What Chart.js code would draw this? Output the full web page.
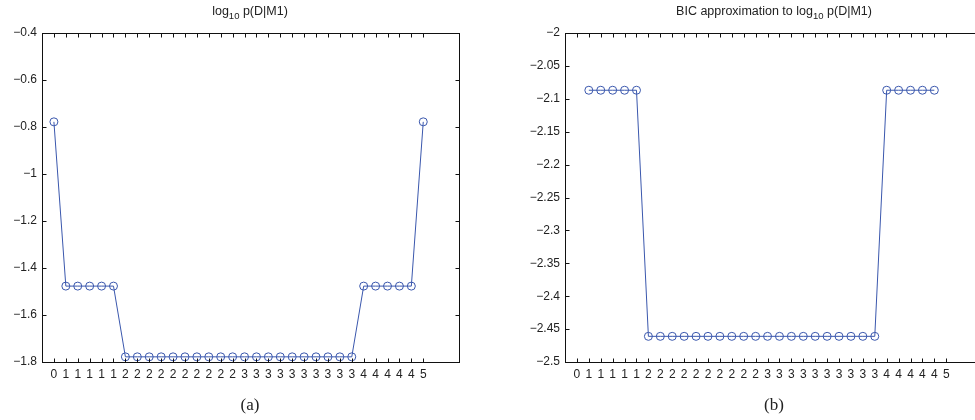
<!DOCTYPE html>
<html>
<head>
<meta charset="utf-8">
<script src="https://cdn.jsdelivr.net/npm/chart.js@4/dist/chart.umd.min.js"></script>
<style>
  html, body { margin: 0; padding: 0; background: #fff; overflow: hidden; }
  body { width: 975px; height: 420px; position: relative; font-family: "Liberation Sans", Arial, sans-serif; color: #222; }
  .panel { position: absolute; top: 0; height: 420px; }
  .title { position: absolute; top: 4px; font-size: 12.5px; white-space: nowrap; transform: translateX(-50%); }
  .title sub { font-size: 9.5px; vertical-align: -4px; line-height: 0; }
  .caption { position: absolute; top: 395px; font-family: "Liberation Serif", "Times New Roman", serif; font-size: 17px; transform: translateX(-50%); }
</style>
</head>
<body>
<div class="panel" style="left:0;width:487px"><canvas id="chartA"></canvas></div>
<div class="panel" style="left:487px;width:500px"><canvas id="chartB"></canvas></div>
<div class="title" style="left:250px">log<sub>10</sub> p(D|M1)</div>
<div class="title" style="left:774px">BIC approximation to log<sub>10</sub> p(D|M1)</div>
<div class="caption" style="left:250px">(a)</div>
<div class="caption" style="left:774px">(b)</div>
<script>
// number of heads N1 in each of the 32 data sets
var xLabels = ['0', '1', '1', '1', '1', '1',
  '2', '2', '2', '2', '2', '2', '2', '2', '2', '2',
  '3', '3', '3', '3', '3', '3', '3', '3', '3', '3',
  '4', '4', '4', '4', '4', '5'];

// log10 p(D|M1)
var logMarginal = [-0.778, -1.477, -1.477, -1.477, -1.477, -1.477,
  -1.778, -1.778, -1.778, -1.778, -1.778, -1.778, -1.778, -1.778, -1.778, -1.778,
  -1.778, -1.778, -1.778, -1.778, -1.778, -1.778, -1.778, -1.778, -1.778, -1.778,
  -1.477, -1.477, -1.477, -1.477, -1.477, -0.778];

// BIC approximation (undefined at N1 = 0 and N1 = 5)
var bicApprox = [null, -2.087, -2.087, -2.087, -2.087, -2.087,
  -2.461, -2.461, -2.461, -2.461, -2.461, -2.461, -2.461, -2.461, -2.461, -2.461,
  -2.461, -2.461, -2.461, -2.461, -2.461, -2.461, -2.461, -2.461, -2.461, -2.461,
  -2.087, -2.087, -2.087, -2.087, -2.087, null];

var yTicksA = [-1.8, -1.6, -1.4, -1.2, -1, -0.8, -0.6, -0.4];
var yTicksB = [-2.5, -2.45, -2.4, -2.35, -2.3, -2.25, -2.2, -2.15, -2.1, -2.05, -2];

var lineColor = '#3a57ad';
var textColor = '#222';

// matlab style box with inward ticks
var framePlugin = {
  id: 'frame',
  afterDraw(chart) {
    var ctx = chart.ctx, a = chart.chartArea;
    var xs = chart.scales.x, ys = chart.scales.y;
    var L = Math.round(a.left) + 0.5, R = Math.round(a.right) + 0.5;
    var T = Math.round(a.top) + 0.5, B = Math.round(a.bottom) + 0.5;
    var len = 4;
    ctx.save();
    ctx.strokeStyle = '#111';
    ctx.lineWidth = 1;
    ctx.beginPath();
    xs.ticks.forEach(function (t) {
      var px = Math.round(xs.getPixelForValue(t.value)) + 0.5;
      ctx.moveTo(px, B); ctx.lineTo(px, B - len);
      ctx.moveTo(px, T); ctx.lineTo(px, T + len);
    });
    ys.ticks.forEach(function (t) {
      var py = Math.round(ys.getPixelForValue(t.value)) + 0.5;
      ctx.moveTo(L, py); ctx.lineTo(L + len, py);
      ctx.moveTo(R, py); ctx.lineTo(R - len, py);
    });
    ctx.stroke();
    ctx.strokeRect(L, T, R - L, B - T);
    ctx.restore();
  }
};

function fmtY(v) {
  return String(parseFloat(v.toFixed(2))).replace('-', '\u2212');
}

function makeChart(id, values, yMin, yMax, yTicks, yWidth, padRight) {
  var points = values.map(function (v, i) { return { x: i + 1, y: v }; });
  return new Chart(document.getElementById(id), {
    type: 'line',
    data: {
      datasets: [{
        data: points,
        borderColor: lineColor,
        borderWidth: 1,
        backgroundColor: 'rgba(0,0,0,0)',
        pointRadius: 4,
        pointBorderWidth: 1,
        pointBorderColor: lineColor,
        pointBackgroundColor: 'rgba(0,0,0,0)',
        tension: 0,
        spanGaps: false
      }]
    },
    options: {
      responsive: true,
      maintainAspectRatio: false,
      animation: false,
      layout: { padding: { top: 33, right: padRight, left: 0, bottom: 0 } },
      plugins: { legend: { display: false }, tooltip: { enabled: false } },
      scales: {
        x: {
          type: 'linear',
          min: 0,
          max: 35,
          grid: { display: false, drawTicks: false },
          border: { display: false },
          afterBuildTicks: function (s) {
            s.ticks = xLabels.map(function (_, i) { return { value: i + 1 }; });
          },
          afterFit: function (s) { s.height = 58; },
          ticks: {
            autoSkip: false,
            maxRotation: 0,
            padding: 5,
            color: textColor,
            font: { family: '"Liberation Sans", Arial, sans-serif', size: 12 },
            callback: function (v) { return xLabels[v - 1]; }
          }
        },
        y: {
          min: yMin,
          max: yMax,
          grid: { display: false, drawTicks: false },
          border: { display: false },
          afterBuildTicks: function (s) {
            s.ticks = yTicks.map(function (v) { return { value: v }; });
          },
          afterFit: function (s) { s.width = yWidth; },
          ticks: {
            padding: 5,
            color: textColor,
            font: { family: '"Liberation Sans", Arial, sans-serif', size: 12 },
            callback: function (v) { return fmtY(v); }
          }
        }
      }
    },
    plugins: [framePlugin]
  });
}

makeChart('chartA', logMarginal, -1.8, -0.4, yTicksA, 42, 28);
makeChart('chartB', bicApprox, -2.5, -2, yTicksB, 78, 5);
</script>
</body>
</html>
